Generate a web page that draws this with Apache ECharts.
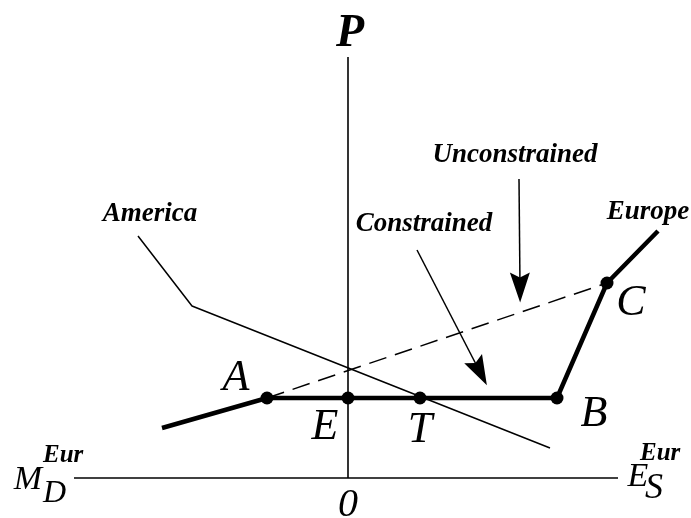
<!DOCTYPE html>
<html>
<head>
<meta charset="utf-8">
<script src="https://cdn.jsdelivr.net/npm/echarts@6/dist/echarts.min.js"></script>
<style>
html, body { margin: 0; padding: 0; background: #fff; }
#chart { width: 691px; height: 518px; }
</style>
</head>
<body>
<div id="chart"></div>
<script>
// axes of the diagram (quantity axis and price axis)
var quantityAxis = [[-27.4, 0], [27.0, 0]];
var priceAxis = [[0, 0], [0, 42.1]];
// Europe excess supply curve (kinked, with the constrained flat part A-B)
var europeX = [-18.6, -8.1, 0, 7.2, 20.9, 25.9, 31.0];
var europeY = [5.0, 8.0, 8.0, 8.0, 8.0, 19.5, 24.7];
// unconstrained part, dashed from A to C
var dashX = [-8.1, 25.9];
var dashY = [8.0, 19.5];
// America curve
var americaX = [-21.0, -15.6, 20.2];
var americaY = [24.2, 17.2, 3.0];
// marked points
var pointNames = ['A', 'E', 'T', 'B', 'C'];
var pointX = [-8.1, 0, 7.2, 20.9, 25.9];
var pointY = [8.0, 8.0, 8.0, 8.0, 19.5];
// arrows (start, arrow head centre)
var arrowFrom = [[17.1, 29.9], [6.9, 22.8]];
var arrowTo = [[17.2, 19.05], [13.2, 10.6]];
// text labels
var textNames = ['America', 'Constrained', 'Unconstrained', 'Europe'];
var textX = [-19.8, 7.6, 16.7, 30.0];
var textY = [26.4, 25.4, 32.3, 26.6];
// letters next to the points and the origin
var letterNames = ['A', 'E', 'T', 'B', 'C', '0'];
var letterX = [-11.2, -2.3, 7.2, 24.6, 28.3, 0];
var letterY = [10.0, 5.1, 4.8, 6.4, 17.5, -2.7];

var serif = "Liberation Serif";

function zip(xs, ys) {
	var out = [];
	for (var i = 0; i < xs.length; i++) out.push([xs[i], ys[i]]);
	return out;
}

var myChart = echarts.init(document.getElementById('chart'), null, { renderer: 'canvas' });

var letterData = [];
for (var i = 0; i < letterNames.length; i++) {
	letterData.push({
		name: letterNames[i],
		value: [letterX[i], letterY[i]],
		label: { fontSize: letterNames[i] === '0' ? 40 : 44 }
	});
}
// P on top of the price axis
letterData.push({ name: 'P', value: [0.2, 44.4], label: { fontSize: 46, fontWeight: 'bold' } });

var textData = [];
for (var j = 0; j < textNames.length; j++) {
	textData.push({ name: textNames[j], value: [textX[j], textY[j]] });
}

var arrowData = [];
for (var k = 0; k < arrowFrom.length; k++) {
	arrowData.push({ coords: [arrowFrom[k], arrowTo[k]] });
}

var axisStyle = { color: '#000', width: 1.6 };
var solid = { color: '#000', opacity: 1 };

var option = {
	animation: false,
	grid: { left: 0, right: 0, top: 0, bottom: 0 },
	xAxis: { type: 'value', min: -34.8, max: 34.3, show: false },
	yAxis: { type: 'value', min: -4.0, max: 47.8, show: false },
	series: [
		{
			name: 'quantityAxis', type: 'line', data: quantityAxis,
			showSymbol: false, silent: true, lineStyle: axisStyle
		},
		{
			name: 'priceAxis', type: 'line', data: priceAxis,
			showSymbol: false, silent: true, lineStyle: axisStyle
		},
		{
			name: 'America', type: 'line', data: zip(americaX, americaY),
			showSymbol: false, silent: true,
			lineStyle: { color: '#000', width: 1.5 }
		},
		{
			name: 'Unconstrained', type: 'line', data: zip(dashX, dashY),
			showSymbol: false, silent: true,
			lineStyle: { color: '#000', width: 1.5, type: [18, 9] }
		},
		{
			name: 'Europe', type: 'line', data: zip(europeX, europeY),
			showSymbol: false, silent: true,
			lineStyle: { color: '#000', width: 4.5 }
		},
		{
			name: 'points', type: 'scatter', data: zip(pointX, pointY),
			symbolSize: 13, silent: true,
			itemStyle: solid
		},
		{
			name: 'arrows', type: 'lines', coordinateSystem: 'cartesian2d',
			data: arrowData, silent: true,
			symbol: ['none', 'path://M10,0 L20,30 L10,25 L0,30 Z'],
			symbolSize: [0, [20, 30]],
			lineStyle: { color: '#000', width: 1.5, opacity: 1 }
		},
		{
			name: 'texts', type: 'scatter', data: textData,
			symbolSize: 0, silent: true, itemStyle: solid,
			label: {
				show: true, position: 'inside', formatter: '{b}', color: '#000',
				fontFamily: serif, fontStyle: 'italic', fontWeight: 'bold', fontSize: 27
			}
		},
		{
			name: 'letters', type: 'scatter', data: letterData,
			symbolSize: 0, silent: true, itemStyle: solid,
			label: {
				show: true, position: 'inside', formatter: '{b}', color: '#000',
				fontFamily: serif, fontStyle: 'italic', fontSize: 44
			}
		},
		{
			name: 'axisNames', type: 'scatter', symbolSize: 0, silent: true, itemStyle: solid,
			data: [
				{ name: 'M', value: [-32.0, -0.2], label: { position: 'inside', align: 'center', formatter: '{big|M}' } },
				{ name: 'MEur', value: [-30.5, 0.2], label: { formatter: '{sup|Eur}\n{sub|D}' } },
				{ name: 'E', value: [29.0, 0.1], label: { position: 'inside', align: 'center', formatter: '{big|E}' } },
				{ name: 'EEur', value: [29.2, 0.75], label: { formatter: '{sup|Eur}\n{sub2|S}' } }
			],
			label: {
				show: true, position: 'right', distance: 0, align: 'left', color: '#000',
				rich: {
					big: { fontFamily: serif, fontStyle: 'italic', fontSize: 34, color: '#000' },
					sup: { fontFamily: serif, fontStyle: 'italic', fontWeight: 'bold', fontSize: 25, lineHeight: 36, color: '#000' },
					sub: { fontFamily: serif, fontStyle: 'italic', fontSize: 32, lineHeight: 40, color: '#000' },
					sub2: { fontFamily: serif, fontStyle: 'italic', fontSize: 36, lineHeight: 34, padding: [0, 0, 0, 5], color: '#000' }
				}
			}
		}
	]
};

myChart.setOption(option);
window.onresize = myChart.resize;
</script>
</body>
</html>
